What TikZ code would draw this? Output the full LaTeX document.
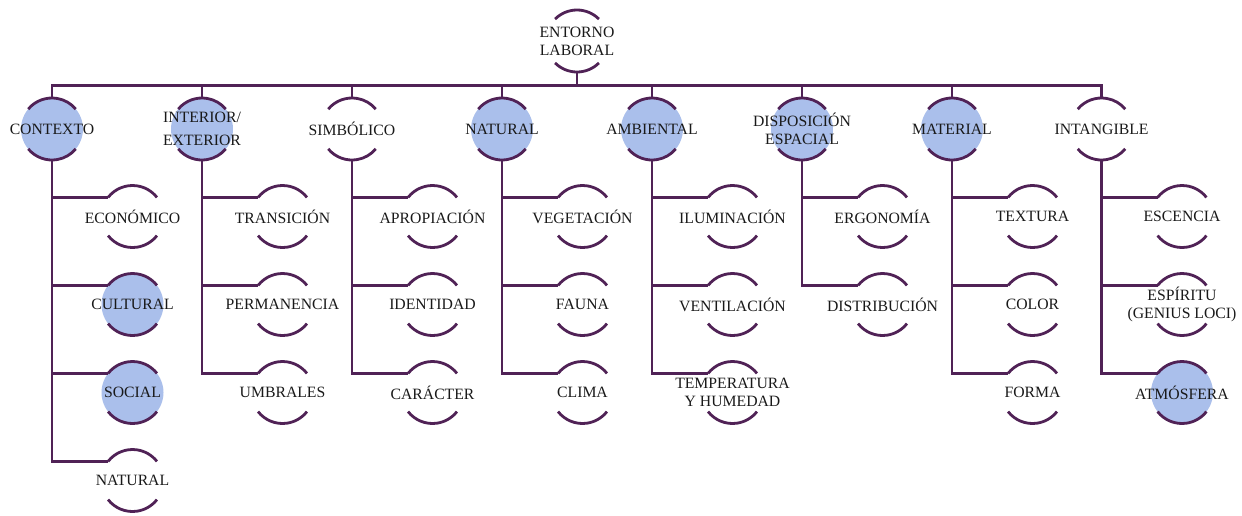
\documentclass[tikz,border=0pt]{standalone}
\usepackage{fontspec}
\setmainfont{Liberation Serif}
\definecolor{lncol}{RGB}{80,34,86}
\definecolor{fillblue}{RGB}{170,191,235}
\tikzset{
  circ/.style={circle, minimum size=46.5pt, inner sep=0pt, outer sep=0pt, draw=none},
  filled/.style={fill=fillblue},
  lbl/.style={align=center, font=\fontsize{11.8}{13.3}\selectfont, inner sep=0pt, text=black!90},
  ln/.style={draw=lncol, line width=2.1pt},
}
\newcommand\kid[5][]{\node[circ,#1] (#2) at (#3,-#4) {}; \node[lbl] (#2-t) at (#2) {#5};}
\begin{document}
\begin{tikzpicture}[x=0.75pt,y=0.75pt]
\useasboundingbox (0,0) rectangle (1242,-515);
% root
\kid{root}{577}{41}{ENTORNO\\LABORAL}
% level 1
\kid[filled]{c1}{52}{129}{CONTEXTO}
\node[circ,filled] (c2) at (202,-129) {};
\node[lbl,font=\fontsize{11.8}{17}\selectfont] (c2-t) at (c2) {INTERIOR/\\EXTERIOR};
\kid{c3}{352}{129}{SIMBÓLICO}
\kid[filled]{c4}{502}{129}{NATURAL}
\kid[filled]{c5}{652}{129}{AMBIENTAL}
\kid[filled]{c6}{802}{129}{DISPOSICIÓN\\ESPACIAL}
\kid[filled]{c7}{952}{129}{MATERIAL}
\kid{c8}{1101.5}{129}{INTANGIBLE}
% children
\kid{k11}{132.5}{216.5}{ECONÓMICO}
\kid[filled]{k12}{132.5}{304.5}{CULTURAL}
\kid[filled]{k13}{132.5}{392.5}{SOCIAL}
\kid{k14}{132.5}{480.5}{NATURAL}
\kid{k21}{282.5}{216.5}{TRANSICIÓN}
\kid{k22}{282.5}{304.5}{PERMANENCIA}
\kid{k23}{282.5}{392.5}{UMBRALES}
\kid{k31}{432.5}{216.5}{APROPIACIÓN}
\kid{k32}{432.5}{304.5}{IDENTIDAD}
\kid{k33}{432.5}{392.5}{CARÁCTER}
\kid{k41}{582.5}{216.5}{VEGETACIÓN}
\kid{k42}{582.5}{304.5}{FAUNA}
\kid{k43}{582.5}{392.5}{CLIMA}
\kid{k51}{732.5}{216.5}{ILUMINACIÓN}
\kid{k52}{732.5}{304.5}{VENTILACIÓN}
\kid{k53}{732.5}{392.5}{TEMPERATURA\\Y HUMEDAD}
\kid{k61}{882.5}{216.5}{ERGONOMÍA}
\kid{k62}{882.5}{304.5}{DISTRIBUCIÓN}
\kid{k71}{1032.5}{216.5}{TEXTURA}
\kid{k72}{1032.5}{304.5}{COLOR}
\kid{k73}{1032.5}{392.5}{FORMA}
\kid{k81}{1182}{216.5}{ESCENCIA}
\kid{k82}{1182}{304.5}{ESPÍRITU\\(GENIUS LOCI)}
\kid[filled]{k83}{1182}{392.5}{ATMÓSFERA}
% arcs
\draw[ln] (root.135) arc[start angle=135, end angle=45, radius=23.25pt];
\draw[ln] (root.225) arc[start angle=225, end angle=315, radius=23.25pt];
\foreach \n in {c1,c2,c3,c4,c5,c6,c7,c8}{
  \draw[ln] (\n.140) arc[start angle=140, end angle=40, radius=23.25pt];
  \draw[ln] (\n.220) arc[start angle=220, end angle=320, radius=23.25pt];
}
\foreach \n in {k11,k12,k13,k14,k21,k22,k23,k31,k32,k33,k41,k42,k43,k51,k52,k53,k61,k62,k71,k72,k73,k81,k82,k83}{
  \draw[ln] (\n.142) arc[start angle=142, end angle=38, radius=23.25pt];
  \draw[ln] (\n.218) arc[start angle=218, end angle=322, radius=23.25pt];
}
% bus
\coordinate (bus) at (577,-85.5);
\draw[ln] (root.south) -- (bus);
\draw[ln] (c1.north) |- (bus);
\draw[ln] (c8.north) |- (bus);
\foreach \n in {c2,c3,c4,c5,c6,c7}{\draw[ln] (\n.north) -- (\n.north |- bus);}
% branches
\draw[ln] (c1.south) |- (k14.142);
\foreach \n in {k11,k12,k13}{\draw[ln] (c1.south |- \n.142) -- (\n.142);}
\draw[ln] (c2.south) |- (k23.142);
\foreach \n in {k21,k22}{\draw[ln] (c2.south |- \n.142) -- (\n.142);}
\draw[ln] (c3.south) |- (k33.142);
\foreach \n in {k31,k32}{\draw[ln] (c3.south |- \n.142) -- (\n.142);}
\draw[ln] (c4.south) |- (k43.142);
\foreach \n in {k41,k42}{\draw[ln] (c4.south |- \n.142) -- (\n.142);}
\draw[ln] (c5.south) |- (k53.142);
\foreach \n in {k51,k52}{\draw[ln] (c5.south |- \n.142) -- (\n.142);}
\draw[ln] (c6.south) |- (k62.142);
\draw[ln] (c6.south |- k61.142) -- (k61.142);
\draw[ln] (c7.south) |- (k73.142);
\foreach \n in {k71,k72}{\draw[ln] (c7.south |- \n.142) -- (\n.142);}
\draw[ln] (c8.south) |- (k83.142);
\foreach \n in {k81,k82}{\draw[ln] (c8.south |- \n.142) -- (\n.142);}
\end{tikzpicture}
\end{document}
